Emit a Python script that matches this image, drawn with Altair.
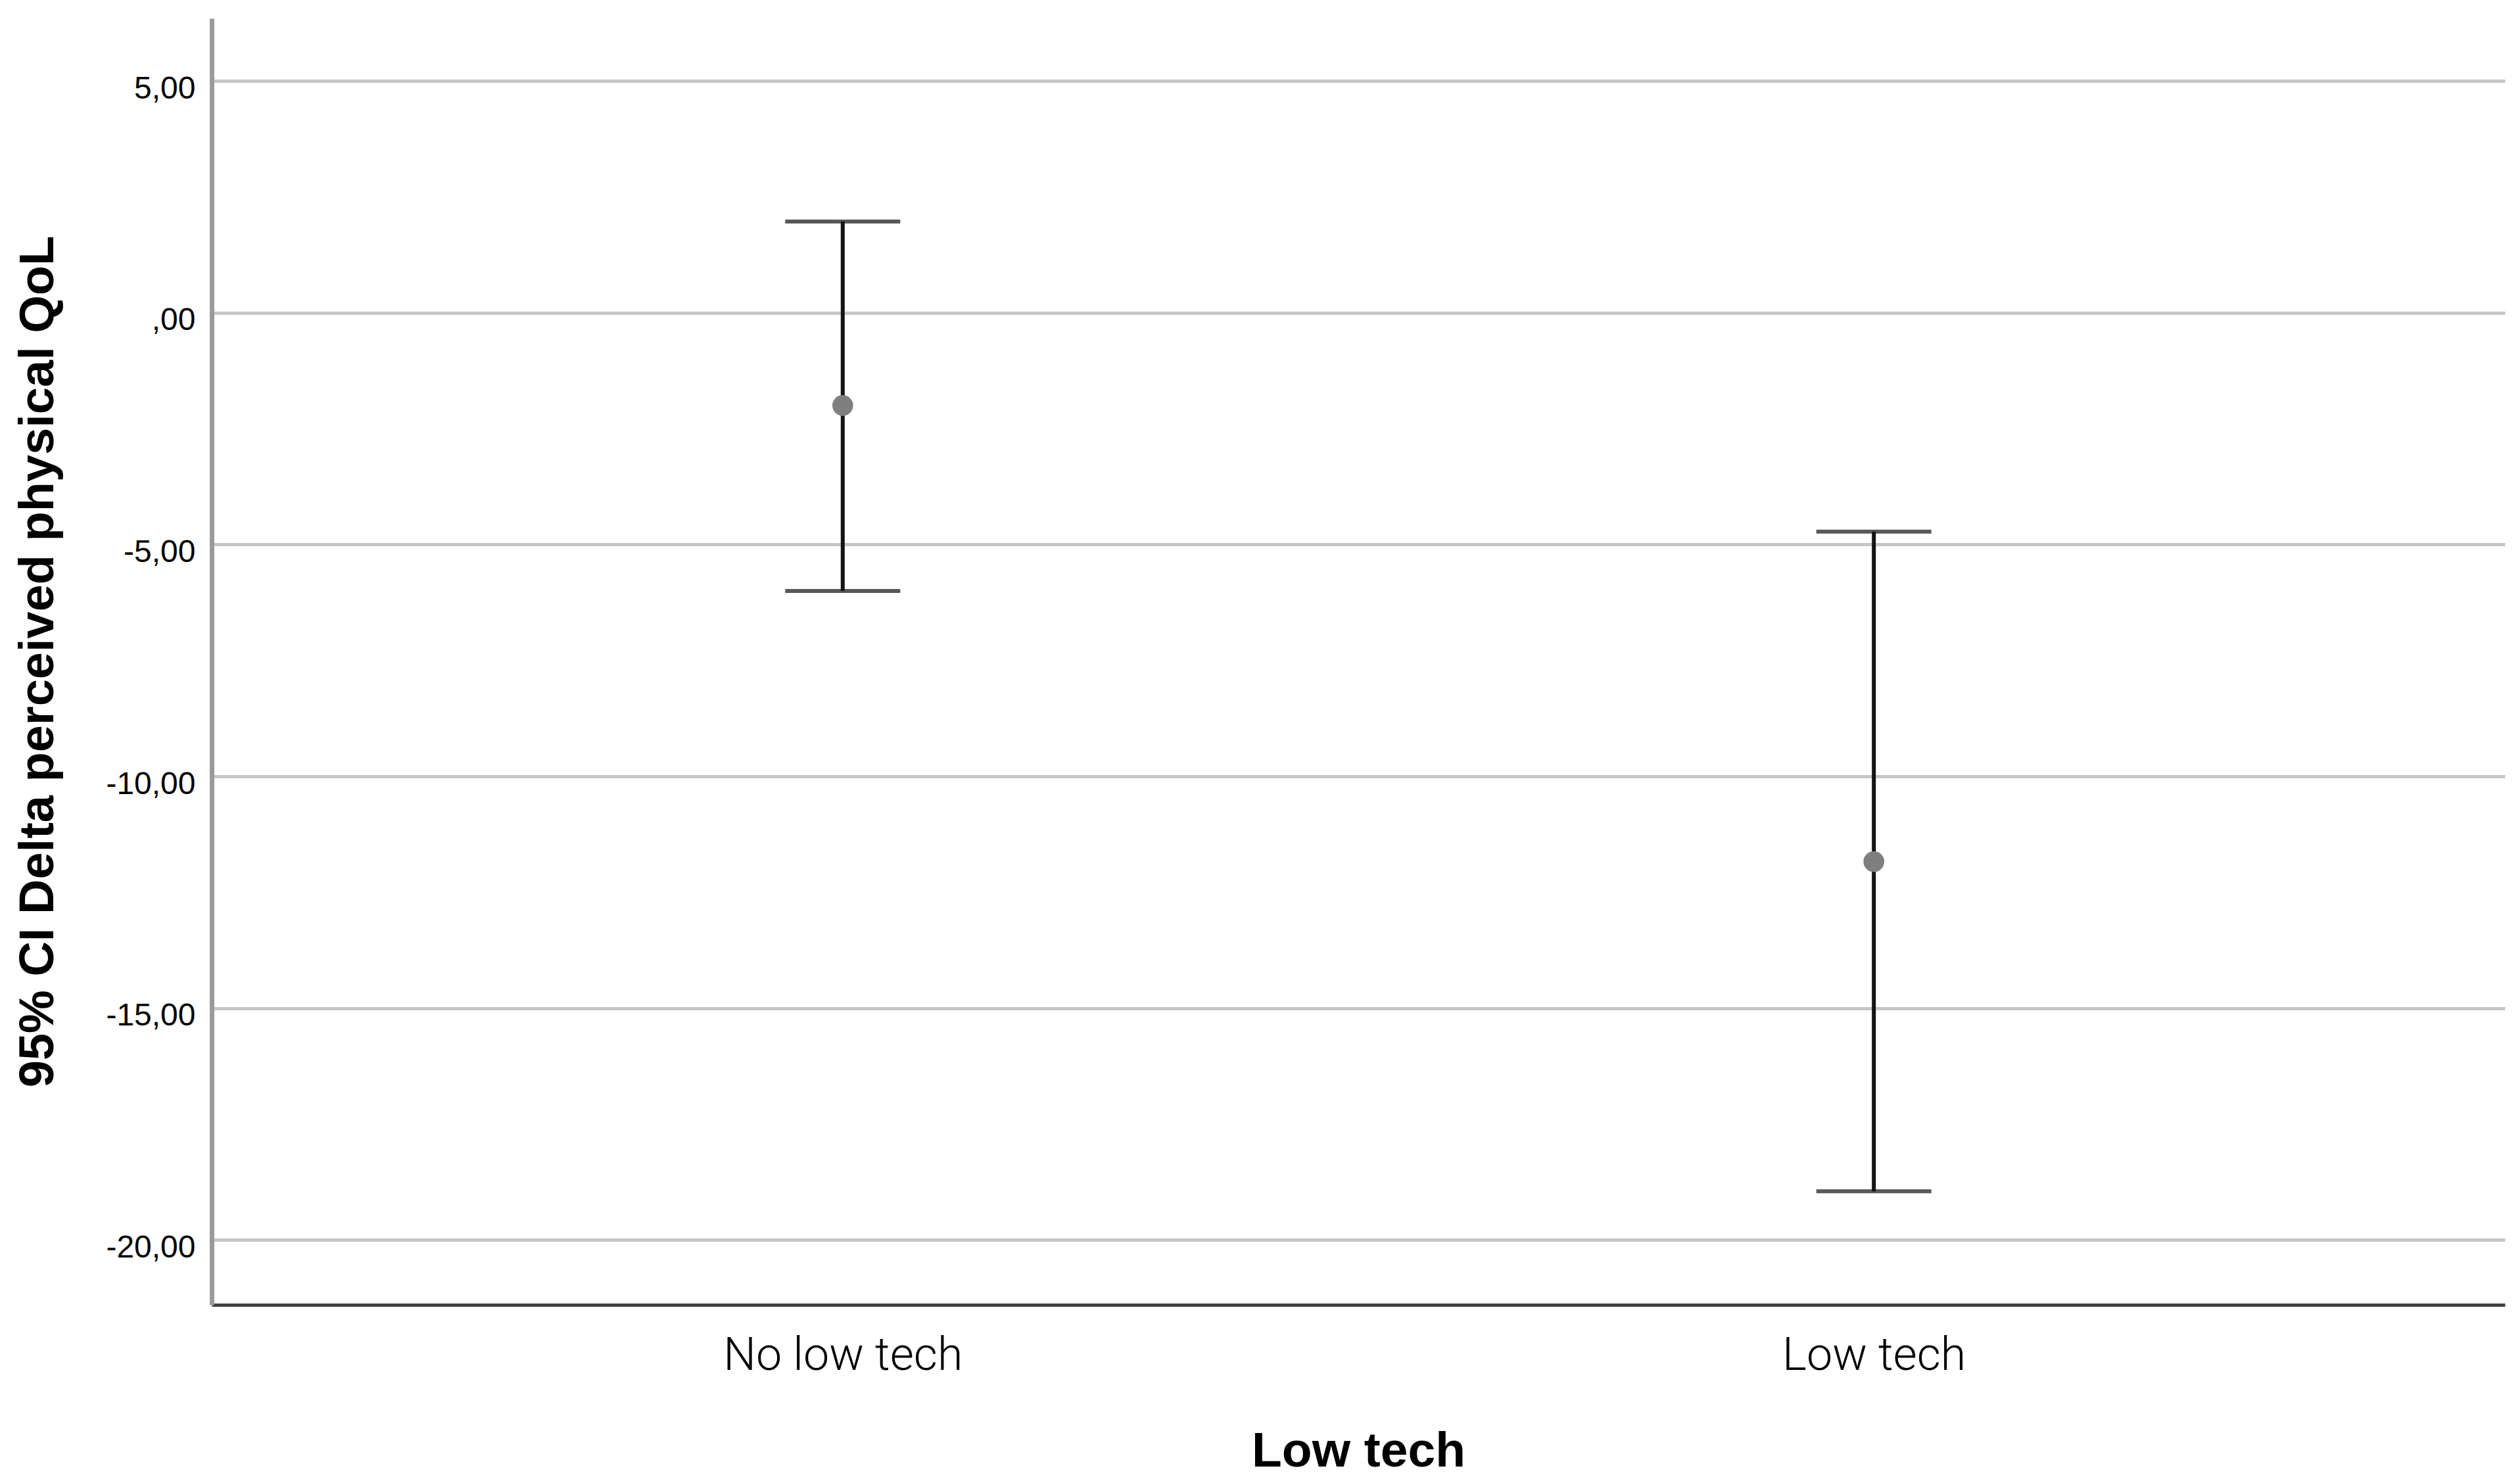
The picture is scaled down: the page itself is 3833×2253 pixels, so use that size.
import altair as alt
import pandas as pd

categories = ["No low tech", "Low tech"]
means = [-2.00, -11.84]
lower = [-6.00, -18.95]
upper = [1.97, -4.72]
y_ticks = [-20, -15, -10, -5, 0, 5]

df = pd.DataFrame({"group": categories, "mean": means, "lo": lower, "hi": upper})

label_expr = ("datum.value == 0 ? ',00' : ((datum.value < 0 ? '-' : '') + "
              "replace(format(abs(datum.value), '.2f'), '.', ','))")

x_enc = alt.X(
    "group:N",
    sort=categories,
    scale=alt.Scale(type="point", padding=0.612),
    axis=alt.Axis(
        title="Low tech",
        labelAngle=0,
        labelFont="Roboto",
        labelFontWeight=300,
        labelFontSize=70,
        labelColor="#000000",
        labelBaseline="alphabetic",
        labelPadding=98,
        labelLimit=0,
        ticks=False,
        tickSize=0,
        grid=False,
        domainColor="#404040",
        domainWidth=5,
        titleFont="Liberation Sans",
        titleFontSize=75,
        titleFontWeight="bold",
        titleColor="#000000",
        titleBaseline="alphabetic",
        titleY=245,
        titleLimit=0,
    ),
)

y_scale = alt.Scale(domain=[-21.4, 6.35], nice=False, zero=False)
y_axis = alt.Axis(
    title="95% CI Delta perceived physical QoL",
    values=y_ticks,
    labelExpr=label_expr,
    labelFont="Liberation Sans",
    labelFontSize=48,
    labelColor="#000000",
    labelBaseline="alphabetic",
    labelOffset=26,
    labelPadding=25,
    labelLimit=0,
    ticks=False,
    tickSize=0,
    grid=True,
    gridColor="#c6c6c6",
    gridWidth=5,
    domainColor="#9a9a9a",
    domainWidth=7,
    titleFont="Liberation Sans",
    titleFontSize=74,
    titleFontWeight="bold",
    titleColor="#000000",
    titleBaseline="alphabetic",
    titleAlign="center",
    titleX=-242,
    titleY=978,
    titleLimit=0,
)

base = alt.Chart(df)

rules = base.mark_rule(color="#141414", strokeWidth=6).encode(
    x=x_enc,
    y=alt.Y("lo:Q", scale=y_scale, axis=y_axis),
    y2="hi:Q",
)

cap_hi = base.mark_tick(color="#111111", size=175, thickness=6).encode(
    x=alt.X("group:N", sort=categories),
    y=alt.Y("hi:Q"),
)
cap_lo = base.mark_tick(color="#111111", size=175, thickness=6).encode(
    x=alt.X("group:N", sort=categories),
    y=alt.Y("lo:Q"),
)
points = base.mark_circle(color="#7f7f7f", size=1000, opacity=1).encode(
    x=alt.X("group:N", sort=categories),
    y=alt.Y("mean:Q"),
)

chart = (
    alt.layer(rules, cap_hi, cap_lo, points)
    .properties(
        width=3488,
        height=1957,
        autosize=alt.AutoSizeParams(type="none"),
        padding={"left": 314, "top": 20, "right": 15, "bottom": 260},
        background="#ffffff",
    )
    .configure_view(stroke=None)
)

chart.save("out.html", embed_options={"renderer": "svg", "actions": False})
